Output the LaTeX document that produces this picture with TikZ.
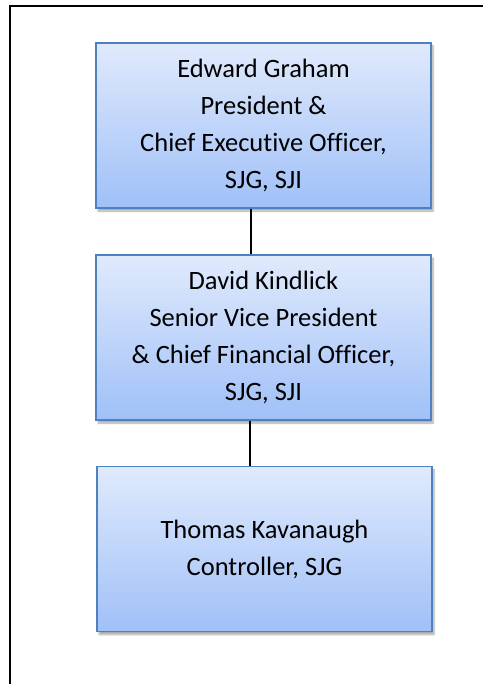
\documentclass[tikz,border=0pt]{standalone}
\usepackage{fontspec}
\setmainfont{Carlito}[RawFeature=-liga]
\usetikzlibrary{shadows.blur}
\definecolor{boxtop}{RGB}{224,234,252}
\definecolor{boxbottom}{RGB}{160,192,248}
\definecolor{boxedge}{RGB}{79,129,189}
\tikzset{
  orgbox/.style={
    rectangle, draw=boxedge, line width=1.5pt,
    top color=boxtop, bottom color=boxbottom,
    minimum width=335pt, minimum height=165pt,
    align=center, inner sep=0pt,
    font=\fontsize{26.5}{37}\selectfont,
    blur shadow={shadow xshift=2pt, shadow yshift=-3pt, shadow blur steps=6, shadow opacity=35}
  },
  link/.style={draw=black, line width=1.8pt},
  frame/.style={draw=black, line width=2pt}
}
\begin{document}
\begin{tikzpicture}[x=1pt, y=-1pt]
  \useasboundingbox (0,0) rectangle (483,684);

  % page frame (left and top edges)
  \draw[frame] (10,684) -- (10,6) -- (483,6);

  % officers
  \node[orgbox] (ceo) at (263.5,125.5)
    {Edward Graham\\President \&\\Chief Executive Officer,\\SJG, SJI};
  \node[orgbox] (cfo) at (263.5,337.5)
    {David Kindlick\\Senior Vice President\\\& Chief Financial Officer,\\SJG, SJI};
  \node[orgbox] (ctl) at (264.5,549)
    {Thomas Kavanaugh\\Controller, SJG};

  % reporting lines
  \draw[link, line width=1.5pt] ([xshift=-12.5pt]ceo.south) -- ([xshift=-12.5pt]cfo.north);
  \draw[link, line width=2.5pt] ([xshift=-13.5pt]cfo.south) -- ([xshift=-14.5pt]ctl.north);
\end{tikzpicture}
\end{document}
